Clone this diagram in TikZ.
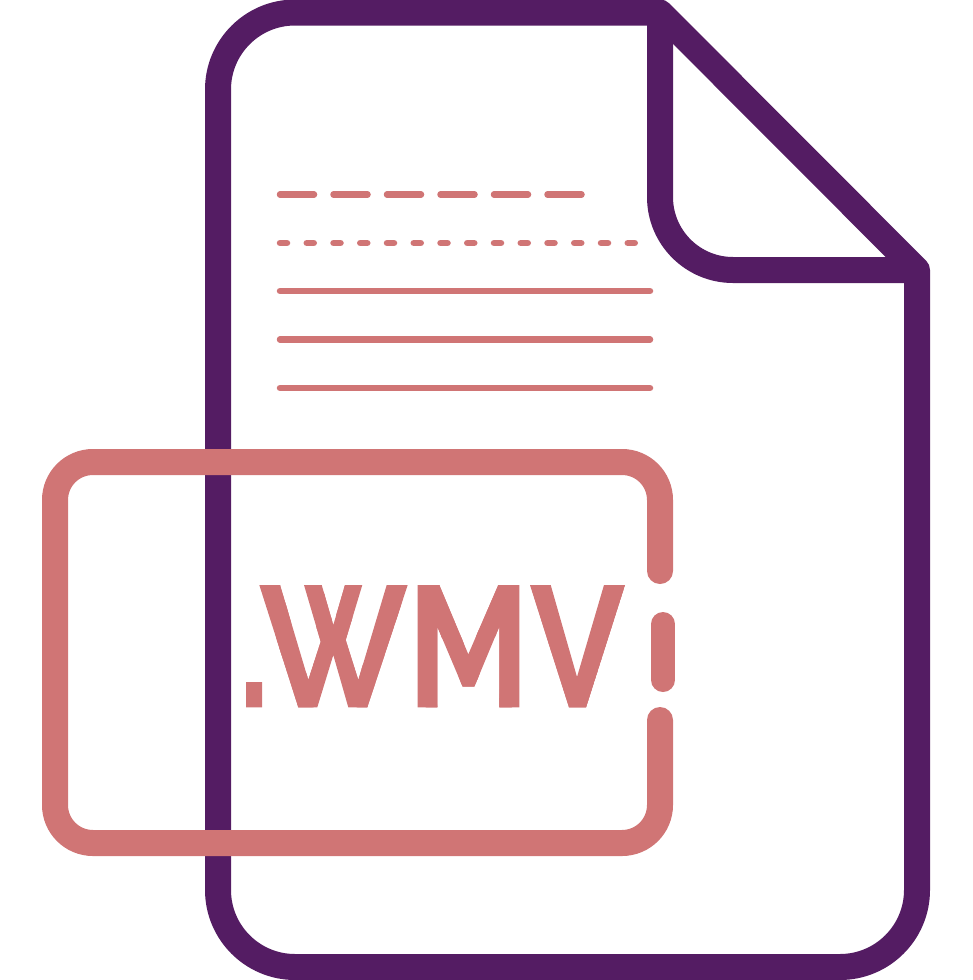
\documentclass[tikz,border=0pt]{standalone}
\usepackage{fontspec}
\usepackage{graphicx}
\setmainfont{Fira Sans}[FakeBold=1.2]
\newfontfamily\dotfont{Liberation Sans Bold}
\definecolor{docpurple}{HTML}{541C63}
\definecolor{tagpink}{HTML}{D07575}
\tikzset{
  docline/.style={draw=docpurple,line width=26pt,line join=round},
  tagline/.style={draw=tagpink,line width=26pt,line cap=round},
  noteline/.style={draw=tagpink,line width=6.5pt,line cap=round},
  glyph/.style={anchor=base west,inner sep=0pt,text=tagpink}
}
\newcommand{\sizedglyph}[3]{\resizebox{#2pt}{#3pt}{#1}}
\def\dotshape{(246,682) -- (262,682) -- (262,707.3) -- (246,707.3) -- cycle}
\def\wshape{(259.3,585) -- (280,585) -- (308.3,680) -- (320.7,641.7) -- (304,585) -- (321.7,585) -- (333.3,625) -- (345,585) -- (362.3,585) -- (345.7,640) -- (358.3,680) -- (386.7,585) -- (407.7,585) -- (367.3,707.3) -- (348.3,707.3) -- (333.3,655) -- (317.3,707.3) -- (298.3,707.3) -- cycle}
\def\mshape{(417.7,585) -- (439.3,585) -- (468.3,654.3) -- (498.3,585) -- (519.3,585) -- (519.3,707.3) -- (499.3,707.3) -- (499.3,626.7) -- (474.3,686.7) -- (462.7,686.7) -- (437.3,626.7) -- (437.3,707.3) -- (417.7,707.3) -- cycle}
\def\vshape{(530,585) -- (550.7,585) -- (577,677) -- (604,585) -- (625,585) -- (586,707.3) -- (569,707.3) -- cycle}
\begin{document}
\begin{tikzpicture}[x=1pt,y=-1pt]
\useasboundingbox (0,0) rectangle (973,980);
% sheet
\path[docline] (660,12.5) -- (295,12.5) .. controls (252.5,12.5) and (218,47) .. (218,89.5) -- (218,890)
  .. controls (218,932.5) and (252.5,967) .. (295,967) -- (840,967)
  .. controls (882.5,967) and (917,932.5) .. (917,890) -- (917,270) -- cycle;
\path[docline] (660,12.5) -- (660,197) .. controls (660,237.3) and (692.7,270) .. (733,270) -- (917,270);
% note lines
\foreach \i in {0,...,5}{
  \draw[noteline] ({280+53.5*\i},194.5) -- ({314+53.5*\i},194.5);
}
\foreach \i in {0,...,13}{
  \draw[noteline] ({280+26.75*\i},243) -- ({287+26.75*\i},243);
}
\foreach \yy in {291,339.5,388}{
  \draw[noteline] (280,\yy) -- (650,\yy);
}
% tag
\path[tagline] (660,571) -- (660,500) .. controls (660,479) and (643,462) .. (622,462) -- (93,462)
  .. controls (72,462) and (55,479) .. (55,500) -- (55,805)
  .. controls (55,826) and (72,843) .. (93,843) -- (622,843)
  .. controls (643,843) and (660,826) .. (660,805) -- (660,720);
\draw[tagpink,line width=24pt,line cap=round] (663,624) -- (663,680);
% label: the letter faces of the reference are drawn, the real text is trimmed to them
\fill[tagpink] \dotshape \wshape \mshape \vshape;
\begin{scope}
\clip \dotshape \wshape \mshape \vshape;
\node[glyph] (label) at (246,707) {\sizedglyph{\dotfont .}{16}{25}\sizedglyph{W}{146}{122}\hspace{10pt}\sizedglyph{M}{101}{122}\hspace{11pt}\sizedglyph{V}{95}{122}};
\end{scope}
\end{tikzpicture}
\end{document}
